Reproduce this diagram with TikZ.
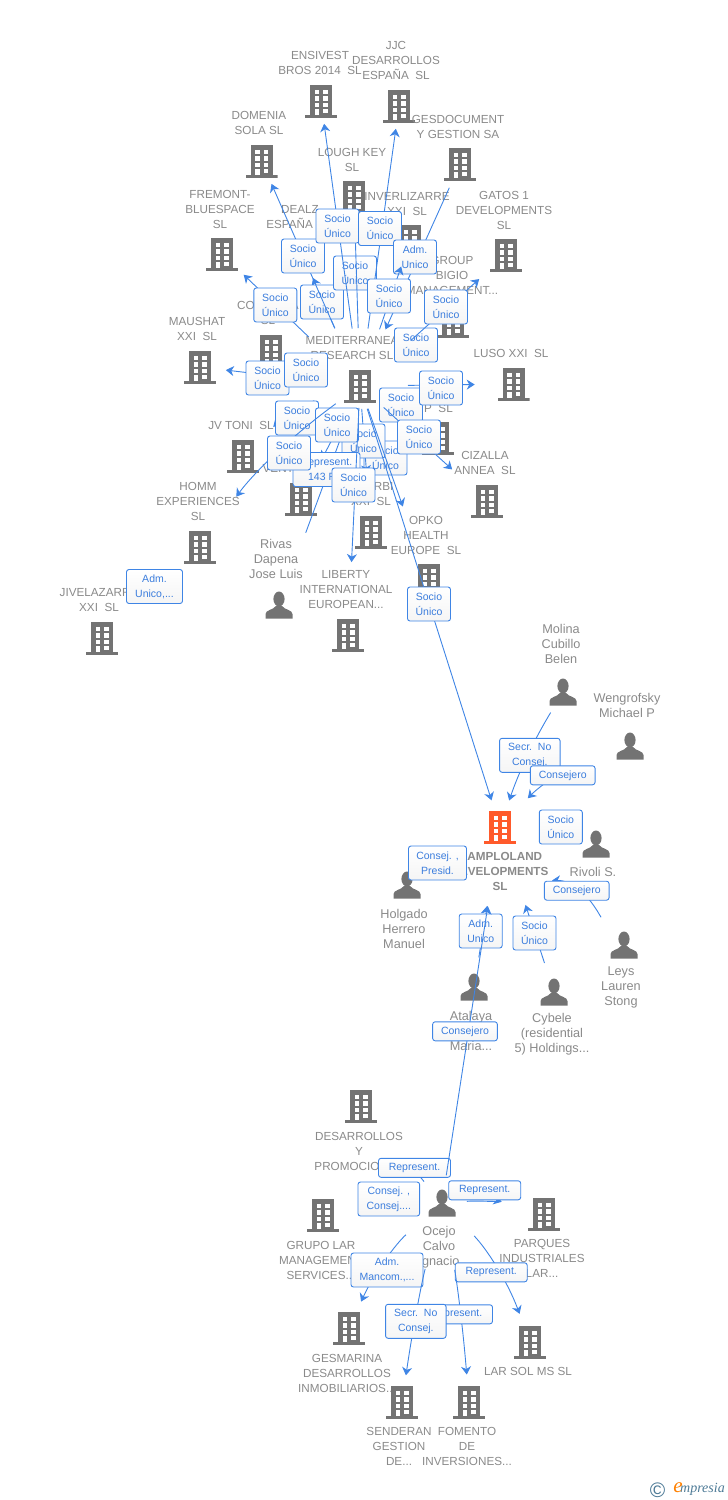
\documentclass[tikz,border=0pt]{standalone}
\usepackage{fontspec}
\setmainfont{Liberation Sans}
\newfontfamily\logofont{Liberation Serif}
\usetikzlibrary{arrows.meta}
\definecolor{icongrey}{HTML}{737373}
\definecolor{textgrey}{HTML}{8A8A8A}
\definecolor{linkblue}{HTML}{3F85E5}
\definecolor{tagblue}{HTML}{3B7DDD}
\definecolor{hotorange}{HTML}{FF5A2B}
\definecolor{logoblue}{HTML}{4D7A96}
\newcommand{\bldgshape}[1]{\begin{scope}[shift={(path picture bounding box.center)}]
\fill[#1] (-11,-16.5) rectangle (11,13.5);
\fill[#1] (-16,13.5) rectangle (16,16.5);
\foreach \wy in {-11.5,-4.8,1.8} {
\fill[white] (-6.5,\wy) rectangle (-2,\wy+4.4);
\fill[white] (2,\wy) rectangle (6.5,\wy+4.4);
}
\fill[white] (-6.5,8) rectangle (-2,13.5);
\fill[white] (2,8) rectangle (6.5,12.2);
\end{scope}}
\newcommand{\personshape}{\begin{scope}[shift={(path picture bounding box.center)}]
\fill[icongrey] (0,-6) ellipse (5.6 and 7.5);
\fill[icongrey] (-13.5,13.5) -- (-13.5,9) .. controls (-13.5,5) and (-6,5) .. (-3,1) -- (3,1) .. controls (6,5) and (13.5,5) .. (13.5,9) -- (13.5,13.5) -- cycle;
\end{scope}}
\tikzset{
bldg/.style={minimum width=32pt,minimum height=33pt,inner sep=0pt,path picture={\bldgshape{#1}}},
bldg/.default=icongrey,
person/.style={minimum width=27pt,minimum height=27pt,inner sep=0pt,path picture={\personshape}},
lbl/.style={text=textgrey,inner sep=0pt,align=center,yshift=-.7pt,font=\fontsize{11.7}{15}\selectfont},
plbl/.style={text=textgrey,inner sep=0pt,align=center,yshift=-.7pt,font=\fontsize{12.7}{15}\selectfont},
tag/.style={draw=linkblue,line width=.9pt,rounded corners=2.5pt,top color=white,bottom color=black!4,text=tagblue,inner sep=0pt,align=center,minimum width=43pt,minimum height=34pt,font=\fontsize{10.5}{15}\selectfont},
tagw/.style={tag,minimum width=#1},
tagf/.style={tag,minimum height=19pt,minimum width=#1},
lnk/.style={draw=linkblue,line width=.9pt,-{Stealth[length=8pt,width=10pt,inset=2.5pt]}},
cut/.style 2 args={shorten <=#1pt,shorten >=#2pt}
}
\begin{document}
\begin{tikzpicture}[x=1pt,y=-1pt]
\useasboundingbox (0,0) rectangle (728,1500);
% companies, top group
\node[bldg] (ensivest) at (321,101) {};
\node[lbl] (ensivestL) at (320,62.5) {ENSIVEST\\BROS 2014~~SL};
\node[bldg] (jjc) at (399,106) {};
\node[lbl] (jjcL) at (396,60) {JJC\\DESARROLLOS\\ESPAÑA~~SL};
\node[bldg] (gesdoc) at (460,164) {};
\node[lbl] (gesdocL) at (458,126.5) {GESDOCUMENT\\Y GESTION SA};
\node[bldg] (domenia) at (261.5,161) {};
\node[lbl] (domeniaL) at (259,122.5) {DOMENIA\\SOLA SL};
\node[bldg] (lough) at (354,197) {};
\node[lbl] (loughL) at (352,159.5) {LOUGH KEY\\SL};
\node[bldg] (fremont) at (222,254) {};
\node[lbl] (fremontL) at (220,209) {FREMONT-\\BLUESPACE\\SL};
\node[bldg] (dealz) at (303,255) {};
\node[lbl] (dealzL) at (300,216.5) {DEALZ\\ESPAÑA~~SL};
\node[bldg] (inverl) at (410,241) {};
\node[lbl] (inverlL) at (407,203.5) {INVERLIZARRE\\XXI~~SL};
\node[bldg] (gatos) at (506,255) {};
\node[lbl] (gatosL) at (504,210) {GATOS 1\\DEVELOPMENTS\\SL};
\node[bldg] (bigio) at (453,321) {};
\node[lbl] (bigioL) at (452,275) {GROUP\\BIGIO\\MANAGEMENT...};
\node[bldg] (com) at (271,351) {};
\node[lbl] (comL) at (268,312.5) {COMPANIA\\SL};
\node[bldg] (maushat) at (200,367) {};
\node[lbl] (maushatL) at (197,328.5) {MAUSHAT\\XXI~~SL};
\node[bldg] (med) at (360,386) {};
\node[lbl] (medL) at (352,347.5) {MEDITERRANEA\\RESEARCH SL};
\node[bldg] (luso) at (513.7,384) {};
\node[lbl] (lusoL) at (511,353) {LUSO XXI~~SL};
\node[bldg] (ship) at (438,438) {};
\node[lbl,anchor=east] (shipL) at (453,408) {SHIP~~SL};
\node[bldg] (jvtoni) at (243,456) {};
\node[lbl] (jvtoniL) at (241,425) {JV TONI~~SL};
\node[bldg] (venture) at (301,499) {};
\node[lbl] (ventureL) at (301,468) {VENTURE~~SL};
\node[bldg] (acorbi) at (371,532) {};
\node[lbl] (acorbiL) at (371,493.5) {ACORBI\\XXI~~SL};
\node[bldg] (cizalla) at (487,501) {};
\node[lbl] (cizallaL) at (485,462.5) {CIZALLA\\ANNEA~~SL};
\node[bldg] (homm) at (200,547) {};
\node[lbl] (hommL) at (198,501) {HOMM\\EXPERIENCES\\SL};
\node[bldg] (opko) at (429,580) {};
\node[lbl] (opkoL) at (426,535) {OPKO\\HEALTH\\EUROPE~~SL};
\node[bldg] (liberty) at (348,635) {};
\node[lbl] (libertyL) at (346,589) {LIBERTY\\INTERNATIONAL\\EUROPEAN...};
\node[bldg] (jivel) at (102,638) {};
\node[lbl] (jivelL) at (99,599.5) {JIVELAZARRE\\XXI~~SL};
\node[person] (rivas) at (279,605) {};
\node[plbl] (rivasL) at (276,558) {Rivas\\Dapena\\Jose Luis};
% central company and its people
\node[bldg=hotorange] (central) at (500,827) {};
\node[lbl,font=\fontsize{11.7}{15}\selectfont\bfseries] (centralL) at (500,871) {EXAMPLOLAND\rule{6pt}{0pt}\\DEVELOPMENTS\\SL};
\node[person] (molina) at (563,692) {};
\node[plbl] (molinaL) at (561,643) {Molina\\Cubillo\\Belen};
\node[person] (wengr) at (630,746) {};
\node[plbl] (wengrL) at (627,704.5) {Wengrofsky\\Michael P};
\node[person] (rivoli) at (596,844) {};
\node[plbl] (rivoliL) at (593,871) {Rivoli S.};
\node[person] (holgado) at (407,885) {};
\node[plbl] (holgadoL) at (404,928) {Holgado\\Herrero\\Manuel};
\node[person] (leys) at (624,945) {};
\node[plbl] (leysL) at (621,987) {Leys\\Lauren\\Stong};
\node[person] (atalaya) at (474,987) {};
\node[plbl] (atalayaL) at (471,1030) {Atalaya\\~\\Maria...};
\node[person] (cybele) at (554,992) {};
\node[plbl] (cybeleL) at (552,1034) {Cybele\\(residential\\5) Holdings...};
% bottom group
\node[person] (ocejo) at (442,1203) {};
\node[plbl] (ocejoL) at (439,1246) {Ocejo\\Calvo\\Ignacio};
\node[bldg] (desarr) at (361,1106) {};
\node[lbl] (desarrL) at (359,1151) {DESARROLLOS\\Y\\PROMOCIONES};
\node[bldg] (grupo) at (323,1215) {};
\node[lbl] (grupoL) at (321,1260) {GRUPO LAR\\MANAGEMENT\\SERVICES...};
\node[bldg] (parques) at (544,1214) {};
\node[lbl] (parquesL) at (542,1258) {PARQUES\\INDUSTRIALES\\LAR...};
\node[bldg] (larsol) at (530,1342) {};
\node[lbl] (larsolL) at (528,1371) {LAR SOL MS SL};
\node[bldg] (gesmar) at (349,1328) {};
\node[lbl] (gesmarL) at (347,1373) {GESMARINA\\DESARROLLOS\\INMOBILIARIOS...};
\node[bldg] (sender) at (402,1402) {};
\node[lbl] (senderL) at (399,1446) {SENDERAN\\GESTION\\DE...};
\node[bldg] (fomento) at (469,1402) {};
\node[lbl] (fomentoL) at (467,1446) {FOMENTO\\DE\\INVERSIONES...};
% links, upper fan
\draw[lnk,cut={63}{25}] (med.center) -- (dealz.center);
\node[tag] (tagDealz) at (322,302) {Socio\\Único};
\node[tag] (tagLough) at (355,273) {Socio\\Único};
\draw[lnk,cut={58}{23}] (med.center) -- (lough.center);
\draw[lnk,cut={63}{25}] (med.center) -- (domenia.center);
\node[tag] (tagDomenia) at (303,256) {Socio\\Único};
\draw[lnk,cut={58}{23}] (med.center) -- (ensivest.center);
\node[tag] (tagEnsivest) at (337.5,226) {Socio\\Único};
\draw[lnk,cut={58}{23}] (med.center) -- (jjc.center);
\node[tag] (tagJjc) at (380,228.5) {Socio\\Único};
\draw[lnk,cut={26}{62}] (gesdoc.center) -- (med.center);
\node[tag] (tagGesdoc) at (415,257) {Adm.\\Unico};
\draw[lnk,cut={60}{27}] (med.center) -- (inverl.center);
\node[tag] (tagInverl) at (389,296) {Socio\\Único};
\draw[lnk,cut={71}{30}] (med.center) -- (fremont.center);
\node[tag] (tagFremont) at (275.3,305) {Socio\\Único};
\draw[lnk,cut={60}{30}] (med.center) -- (bigio.center);
\node[tag] (tagBigio) at (416,345) {Socio\\Único};
\draw[lnk,cut={68}{36}] (med.center) -- (gatos.center);
\node[tag] (tagGatos) at (446,307) {Socio\\Único};
% links, sides and lower fan
\draw[lnk,cut={50}{26}] (med.center) -- (maushat.center);
\node[tag] (tagMaushat) at (267.5,378) {Socio\\Único};
\draw[lnk,cut={40}{28}] (med.center) -- (com.center);
\node[tag] (tagCom) at (306,370) {Socio\\Único};
\draw[lnk,cut={30}{22}] (med.center) -- (ship.center);
\node[tag] (tagShip) at (401,405) {Socio\\Único};
\draw[lnk,cut={48}{39}] (med.center) -- (luso.center);
\node[tag] (tagLuso) at (441,388) {Socio\\Único};
\node[tag] (tagOpko) at (385.5,458) {Socio\\Único};
\draw[lnk,cut={23}{59}] (med.center) -- (acorbi.center);
\node[tag] (tagAcorbi) at (363.5,441) {Socio\\Único};
\draw[lnk,cut={24}{78}] (med.center) -- (opko.center);
\draw[lnk,cut={24}{28}] (med.center) -- (central.center);
\node[tag] (tagCentral) at (429,604) {Socio\\Único};
\draw[lnk,cut={32}{47}] (med.center) -- (cizalla.center);
\node[tag] (tagCizalla) at (419,437) {Socio\\Único};
\draw[lnk,cut={48}{42}] (med.center) to[bend right=13] (jvtoni.center);
\node[tag] (tagJv) at (297,418) {Socio\\Único};
\draw[lnk,cut={77}{26}] (rivas.center) -- (med.center);
\draw[lnk,cut={40}{45}] (med.center) -- (venture.center);
\node[tag] (tagVenture) at (337,425) {Socio\\Único};
\node[tagw=67pt] (tagRivas) at (326.5,469.5) {Represent.\\143 R...};
\draw[lnk,cut={30}{62}] (med.center) to[bend right=9] (homm.center);
\node[tag] (tagHomm) at (289,453) {Socio\\Único};
\draw[lnk,cut={22}{73}] (med.center) -- (liberty.center);
\node[tag] (tagLiberty) at (353.5,485) {Socio\\Único};
\draw[lnk,cut={38}{52}] (homm.center) -- (jivel.center);
\node[tagw=56pt] (tagJivel) at (154.5,586.5) {Adm.\\Unico,...};
% links into the central company
\draw[lnk,cut={24}{28},bend right=6] (molina.center) to (central.center);
\node[tagw=60.5pt] (tagMolina) at (529.8,755.3) {Secr.~~No\\Consej.};
\draw[lnk,cut={72}{40},bend right=14] (wengr.center) to (central.center);
\node[tagf=64.7pt] (tagWengr) at (562.7,775.3) {Consejero};
\draw[lnk,cut={22}{46}] (rivoli.center) -- (central.center);
\node[tag] (tagRivoli) at (560.8,827) {Socio\\Único};
\draw[lnk,cut={20}{50}] (holgado.center) -- (central.center);
\node[tagw=58pt] (tagHolgado) at (437.5,863) {Consej. ,\\Presid.};
\coordinate (leysIn) at (552,880.5);
\draw[lnk,shorten <=36pt] (leys.center) .. controls (600,916) and (582,880) .. (leysIn);
\node[tagf=64.7pt] (tagLeys) at (576.7,890.7) {Consejero};
\draw[lnk,cut={30}{80}] (atalaya.center) -- (central.center);
\node[tag] (tagAtalaya) at (480.7,931) {Adm.\\Unico};
\draw[lnk,cut={30.5}{82}] (cybele.center) -- (central.center);
\node[tag] (tagCybele) at (534.5,933) {Socio\\Único};
% links of the lower person
\draw[lnk,cut={28}{74}] (ocejo.center) -- (desarr.center);
\node[tagf=72pt] (tagDesarr) at (414.5,1167.8) {Represent.};
\draw[lnk,cut={28}{80}] (ocejo.center) -- (central.center);
\node[tagf=64.7pt] (tagOcejo) at (465,1031.3) {Consejero};
\draw[lnk,cut={30}{45}] (ocejo.center) -- (grupo.center);
\node[tagw=61.6pt] (tagGrupo) at (388.8,1199) {Consej. ,\\Consej....};
\draw[lnk,cut={25}{44},bend left=10] (ocejo.center) to (parques.center);
\node[tagf=72pt] (tagParques) at (484.7,1190.3) {Represent.};
\draw[lnk,cut={48}{29},bend right=12] (ocejo.center) to (gesmar.center);
\node[tagw=72pt] (tagGesmar) at (387,1270) {Adm.\\Mancom.,...};
\draw[lnk,cut={46}{30},bend left=12] (ocejo.center) to (larsol.center);
\node[tagf=72pt] (tagLarsol) at (491.2,1272.3) {Represent.};
\draw[lnk,cut={68}{27.6},bend left=3] (ocejo.center) to (fomento.center);
\node[tagf=72pt] (tagFomento) at (456.5,1314.3) {Represent.};
\draw[lnk,cut={68}{27},bend right=3] (ocejo.center) to (sender.center);
\node[tagw=60.5pt] (tagSender) at (415.8,1321.3) {Secr.~~No\\Consej.};
% logo
\node[text=logoblue,inner sep=0pt,font=\fontsize{21}{21}\selectfont] (logoSym) at (657.5,1490) {©};
\node[anchor=west,inner sep=0pt,font=\logofont\itshape\fontsize{14}{14}\selectfont,text=logoblue] (logoTxt) at (680,1489.5) {mpresia};
\node[anchor=east,inner sep=0pt,font=\logofont\itshape\fontsize{21}{21}\selectfont,text=orange] (logoE) at (683,1488) {e};
\end{tikzpicture}
\end{document}
